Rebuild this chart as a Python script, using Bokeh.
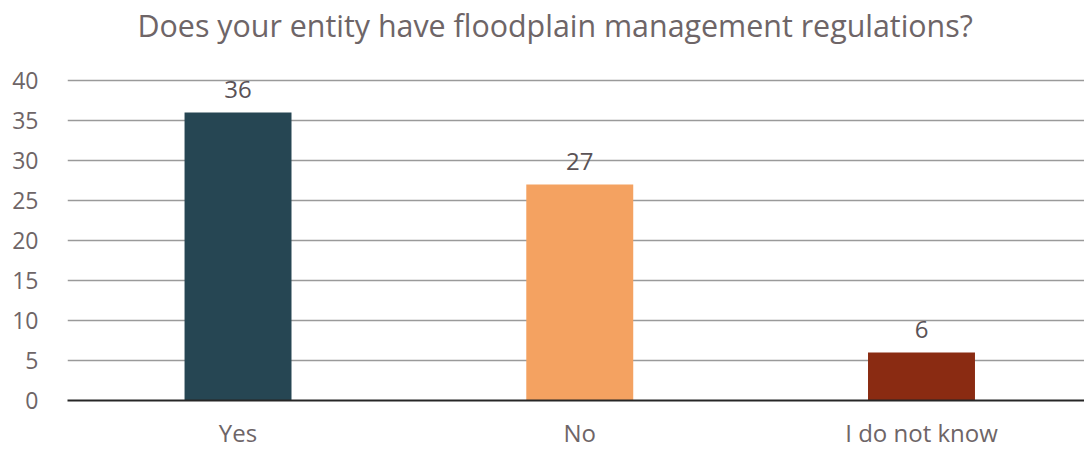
from bokeh.plotting import figure
from bokeh.models import ColumnDataSource, Range1d, FixedTicker, SingleIntervalTicker, LabelSet, Title
from bokeh.core.properties import value
from bokeh.embed import file_html
from bokeh.resources import INLINE

title_text = "Does your entity have floodplain management regulations?"
categories = ["Yes", "No", "I do not know"]
counts = [36, 27, 6]
bar_colors = ["#264653", "#F4A261", "#8A2B12"]
y_max = 40
y_step = 5

FONT = "Open Sans"
TEXT = "#6E6567"
LABEL = "#5A5256"

positions = list(range(len(categories)))
source = ColumnDataSource(dict(
    x=positions,
    top=counts,
    color=bar_colors,
    label=[str(c) for c in counts],
))

p = figure(width=1084, height=451, output_backend="svg", toolbar_location=None,
           x_range=Range1d(-0.499, 2.477), y_range=Range1d(0, y_max + 0.25),
           min_border_left=67, min_border_right=0, min_border_top=78, min_border_bottom=51)

# spacer between title and plot area (closest to the frame), then the title
p.add_layout(Title(text=" ", text_font_size="1px", standoff=30, text_color="white"), "above")
p.add_layout(Title(text=title_text, align="left", offset=70, standoff=0,
                   text_font=FONT, text_font_size="30.4px", text_color=TEXT,
                   text_font_style="normal"), "above")

p.outline_line_color = None
p.background_fill_color = "white"
p.border_fill_color = "white"

p.vbar(x="x", top="top", bottom=0, width=0.313, fill_color="color", line_color=None, source=source)

# y axis
p.yaxis.ticker = SingleIntervalTicker(interval=y_step)
p.yaxis.axis_line_color = None
p.yaxis.major_tick_line_color = None
p.yaxis.minor_tick_line_color = None
p.yaxis.major_tick_out = 0
p.yaxis.minor_tick_out = 0
p.yaxis.major_label_standoff = 29
p.yaxis.major_label_text_font = FONT
p.yaxis.major_label_text_font_size = "23px"
p.yaxis.major_label_text_color = TEXT

# x axis with category labels
p.xaxis.ticker = FixedTicker(ticks=positions)
p.xaxis.major_label_overrides = {i: c for i, c in zip(positions, categories)}
p.xaxis.axis_line_color = "#262626"
p.xaxis.axis_line_width = 2
p.xaxis.major_tick_line_color = None
p.xaxis.minor_tick_line_color = None
p.xaxis.major_tick_out = 0
p.xaxis.minor_tick_out = 0
p.xaxis.major_label_standoff = 15
p.xaxis.major_label_text_font = FONT
p.xaxis.major_label_text_font_size = "24px"
p.xaxis.major_label_text_color = TEXT

p.xgrid.grid_line_color = None
p.ygrid.ticker = SingleIntervalTicker(interval=y_step)
p.ygrid.grid_line_color = "#9A9A9A"
p.ygrid.grid_line_width = 1.5

values_labels = LabelSet(x="x", y="top", text="label", source=source,
                         y_offset=15, text_align="center", text_baseline="alphabetic",
                         text_font=value(FONT), text_font_size="24px", text_color=LABEL)
p.add_layout(values_labels)

open("out.html", "w").write(file_html(p, INLINE))
